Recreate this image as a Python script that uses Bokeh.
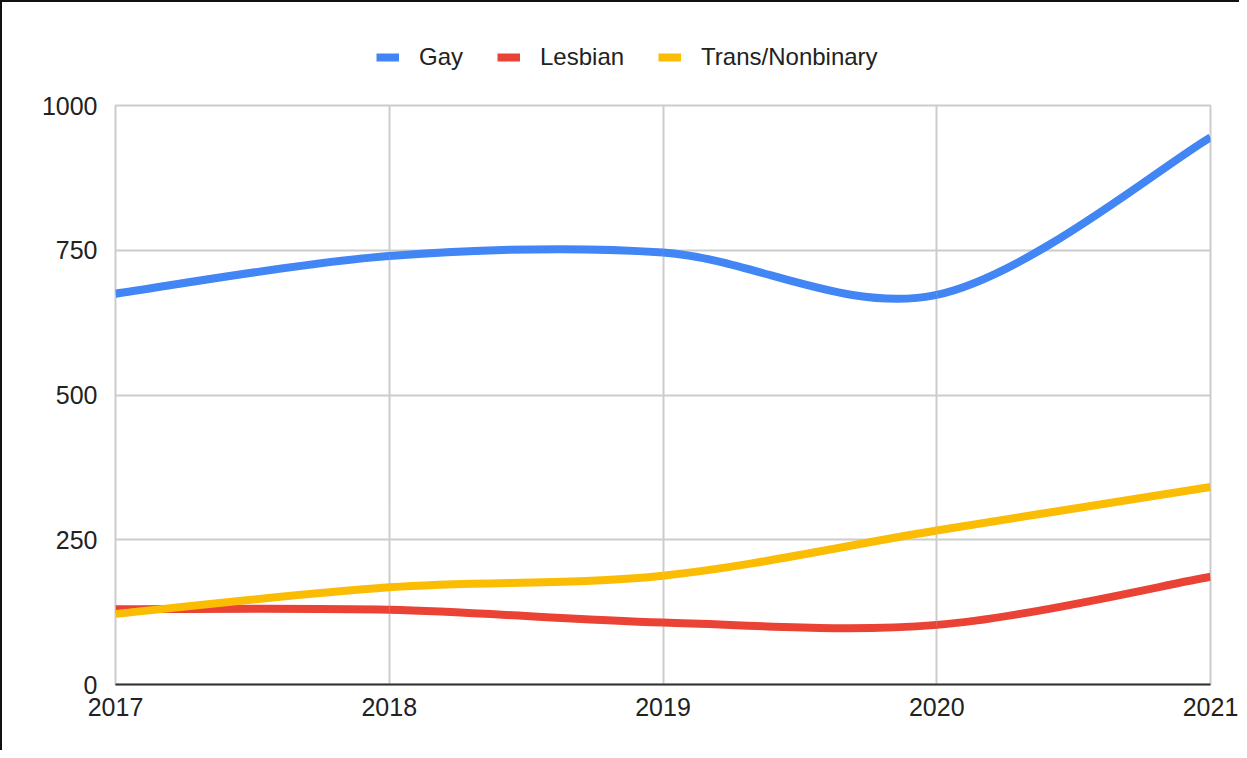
from bokeh.plotting import figure
from bokeh.layouts import column
from bokeh.models import ColumnDataSource, Legend, LegendItem, FixedTicker, Range1d
from bokeh.embed import file_html
from bokeh.resources import INLINE

years = [2017, 2018, 2019, 2020, 2021]
gay = [675, 740, 746, 673, 945]
lesbian = [130, 129, 107, 103, 186]
trans = [122, 168, 188, 266, 341]
series_names = ["Gay", "Lesbian", "Trans/Nonbinary"]
colors = ["#4285F4", "#EA4335", "#FBBC04"]
y_ticks = [0, 250, 500, 750, 1000]


def bezier_source(xs, ys):
    # Catmull-Rom style smoothing (like a "function" curve type)
    n = len(xs)
    px = [xs[0]] + list(xs) + [xs[-1]]
    py = [ys[0]] + list(ys) + [ys[-1]]
    d = dict(x0=[], y0=[], x1=[], y1=[], cx0=[], cy0=[], cx1=[], cy1=[])
    for i in range(1, n):
        p0x, p0y = px[i - 1], py[i - 1]
        p1x, p1y = px[i], py[i]
        p2x, p2y = px[i + 1], py[i + 1]
        p3x, p3y = px[i + 2], py[i + 2]
        d["x0"].append(p1x); d["y0"].append(p1y)
        d["x1"].append(p2x); d["y1"].append(p2y)
        d["cx0"].append(p1x + (p2x - p0x) / 6.0)
        d["cy0"].append(p1y + (p2y - p0y) / 6.0)
        d["cx1"].append(p2x - (p3x - p1x) / 6.0)
        d["cy1"].append(p2y - (p3y - p1y) / 6.0)
    return ColumnDataSource(d)


FONT = "Liberation Sans"
series = [gay, lesbian, trans]

# ---- legend strip (its lines lie outside its own range; only the legend shows) ----
leg_fig = figure(width=1237, height=80, output_backend="svg", toolbar_location=None,
                 x_range=Range1d(0, 1), y_range=Range1d(0, 1),
                 x_axis_type=None, y_axis_type=None,
                 min_border_left=0, min_border_right=0, min_border_top=0,
                 min_border_bottom=0)
leg_fig.outline_line_color = None
leg_fig.xgrid.visible = False
leg_fig.ygrid.visible = False
leg_items = []
for name, vals, col in zip(series_names, series, colors):
    lr = leg_fig.line(x=years, y=vals, line_color=col, line_width=8, line_cap="butt")
    leg_items.append(LegendItem(label=name, renderers=[lr]))
legend = Legend(items=leg_items, orientation="horizontal", location=(261, 11),
                glyph_width=23, glyph_height=24, label_standoff=20, spacing=34,
                padding=0, margin=0, border_line_color=None,
                background_fill_alpha=0,
                label_text_font=FONT, label_text_font_size="24px",
                label_text_color="#222222")
leg_fig.add_layout(legend, "center")

# ---- main chart ----
p = figure(width=1237, height=668, output_backend="svg", toolbar_location=None,
           x_range=Range1d(2017, 2021), y_range=Range1d(0, 1000),
           min_border_left=113, min_border_right=29, min_border_top=23,
           min_border_bottom=66)

p.outline_line_color = "#cccccc"
p.outline_line_width = 2
p.xgrid.grid_line_color = "#cccccc"
p.ygrid.grid_line_color = "#cccccc"
p.xgrid.grid_line_width = 2
p.ygrid.grid_line_width = 2
p.xaxis.ticker = FixedTicker(ticks=years)
p.yaxis.ticker = FixedTicker(ticks=y_ticks)
p.xgrid.ticker = FixedTicker(ticks=years)
p.ygrid.ticker = FixedTicker(ticks=y_ticks)

for ax in (p.xaxis, p.yaxis):
    ax.major_tick_line_color = None
    ax.minor_tick_line_color = None
    ax.major_label_text_font = FONT
    ax.major_label_text_font_size = "25px"
    ax.major_label_text_color = "#222222"
p.yaxis.axis_line_color = None
p.xaxis.axis_line_color = "#333333"
p.xaxis.axis_line_width = 2
p.yaxis.major_label_standoff = 12
p.xaxis.major_label_standoff = 7

for name, vals, col in zip(series_names, series, colors):
    src = bezier_source(years, vals)
    p.bezier(x0="x0", y0="y0", x1="x1", y1="y1", cx0="cx0", cy0="cy0",
             cx1="cx1", cy1="cy1", source=src, line_color=col, line_width=8,
             line_cap="butt")

layout = column(leg_fig, p, spacing=0)
layout.styles = {"border-top": "2px solid #111", "border-left": "2px solid #111"}

open("out.html", "w").write(file_html(layout, INLINE))
